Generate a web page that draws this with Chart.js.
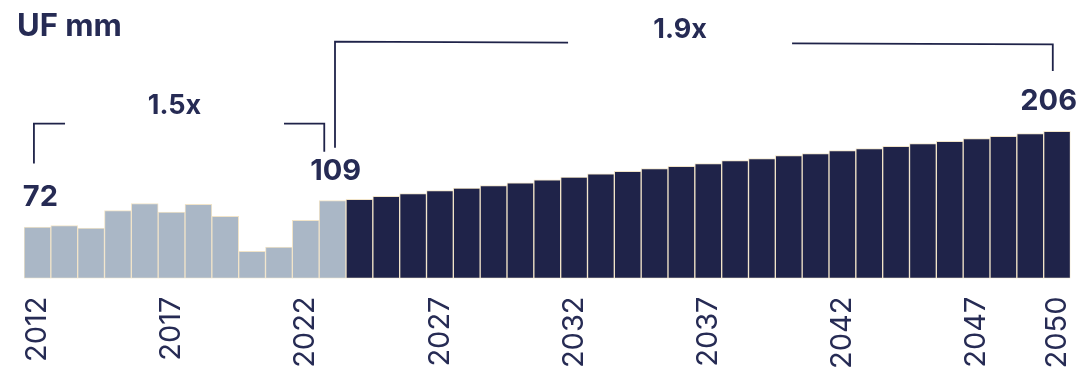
<!DOCTYPE html>
<html>
<head>
<meta charset="utf-8">
<script src="https://cdn.jsdelivr.net/npm/chart.js@4.4.1/dist/chart.umd.min.js"></script>
<style>
  html, body { margin: 0; padding: 0; background: #fff; overflow: hidden; }
  #wrap { position: relative; width: 1083px; height: 371px; }
</style>
</head>
<body>
<div id="wrap"><canvas id="myChart"></canvas></div>
<script>
// data
var histYears = ['2012','2013','2014','2015','2016','2017','2018','2019','2020','2021','2022','2023'];
var histValues = [72, 74, 70.5, 95, 105, 93, 104, 87, 38, 44, 81.5, 109];
var forecastYears = ['2024','2025','2026','2027','2028','2029','2030','2031','2032','2033','2034','2035','2036','2037',
                     '2038','2039','2040','2041','2042','2043','2044','2045','2046','2047','2048','2049','2050'];
var forecastValues = [111, 115, 119, 123, 126.5, 130, 134, 138, 142, 146.5, 150, 154, 157, 161,
                      165, 168, 172, 175, 179, 182, 185, 189, 192, 196, 199, 203, 206];
var tickYears = ['2012','2017','2022','2027','2032','2037','2042','2047','2050'];
var valueLabelYears = ['2012','2023','2050'];

var navy = '#1f2349';
var textColor = '#262b54';
var histColor = '#aab7c6';

var labels = histYears.concat(forecastYears);
var values = histValues.concat(forecastValues);
var colors = labels.map(function (y, i) { return i < histYears.length ? histColor : navy; });

// growth brackets, x in category units, y in data units
var brackets = [
  { x1: -0.13, x2: 10.69, y1: 217, y2: 217, leftEnd: 161, rightEnd: 177.6, text: '1.5x', textAt: 5.11, textY: 231, gap: 109.5 },
  { x1: 11.09, x2: 37.84, y1: 331.6, y2: 328, leftEnd: 183, rightEnd: 290.6, text: '1.9x', textAt: 23.95, textY: 337, gap: 112 }
];

var annotate = {
  id: 'annotate',
  afterDatasetsDraw: function (chart) {
    var ctx = chart.ctx, xs = chart.scales.x, ys = chart.scales.y;
    ctx.save();
    ctx.fillStyle = textColor;
    ctx.font = '700 31px Inter';
    ctx.textBaseline = 'alphabetic';
    ctx.textAlign = 'left';
    ctx.fillText('UF mm', 17, 36);

    // value labels
    ctx.font = '700 29px Inter';
    ctx.textAlign = 'center';
    valueLabelYears.forEach(function (y) {
      var i = labels.indexOf(y);
      var cx = xs.getPixelForValue(i) + 3;
      var w = ctx.measureText(String(values[i])).width;
      if (cx + w / 2 > chart.width - 6) cx = chart.width - 6 - w / 2;
      ctx.fillText(String(values[i]), cx, ys.getPixelForValue(values[i]) - 21);
    });

    // brackets
    ctx.strokeStyle = navy;
    ctx.lineWidth = 1.8;
    brackets.forEach(function (b) {
      var ax = xs.getPixelForValue(b.x1), bx = xs.getPixelForValue(b.x2);
      var ay = ys.getPixelForValue(b.y1), by = ys.getPixelForValue(b.y2);
      var tx = xs.getPixelForValue(b.textAt);
      var g1 = tx - b.gap, g2 = tx + b.gap;
      function yAt(x) { return ay + (by - ay) * (x - ax) / (bx - ax); }
      ctx.beginPath();
      ctx.moveTo(ax, ys.getPixelForValue(b.leftEnd));
      ctx.lineTo(ax, ay);
      ctx.lineTo(g1, yAt(g1));
      ctx.moveTo(g2, yAt(g2));
      ctx.lineTo(bx, by);
      ctx.lineTo(bx, ys.getPixelForValue(b.rightEnd));
      ctx.stroke();
      ctx.font = '700 27px Inter';
      ctx.textAlign = 'center';
      ctx.fillText(b.text, tx, ys.getPixelForValue(b.textY));
    });
    ctx.restore();
  }
};

var ctx = document.getElementById('myChart').getContext('2d');
var myChart = new Chart(ctx, {
  type: 'bar',
  data: {
    labels: labels,
    datasets: [{
      data: values,
      backgroundColor: colors,
      borderColor: '#f1e4c9',
      borderWidth: 1,
      borderSkipped: false,
      barPercentage: 1,
      categoryPercentage: 1
    }]
  },
  options: {
    responsive: true,
    maintainAspectRatio: false,
    animation: false,
    devicePixelRatio: 1,
    layout: { padding: { left: 24, right: 12.5, top: 0, bottom: 0 } },
    plugins: { legend: { display: false }, tooltip: { enabled: false } },
    scales: {
      x: {
        grid: { display: false, drawTicks: false },
        border: { display: false },
        afterFit: function (scale) {
          scale.height = 92.5;
          scale.paddingLeft = 0;
          scale.paddingRight = 0;
        },
        ticks: {
          autoSkip: false,
          minRotation: 90,
          maxRotation: 90,
          padding: 18,
          color: textColor,
          font: { family: 'Inter', size: 29, weight: '400' },
          callback: function (v, i) {
            return tickYears.indexOf(labels[i]) >= 0 ? labels[i] : '';
          }
        }
      },
      y: { display: false, min: 0, max: 390 }
    }
  },
  plugins: [annotate]
});
</script>
</body>
</html>
